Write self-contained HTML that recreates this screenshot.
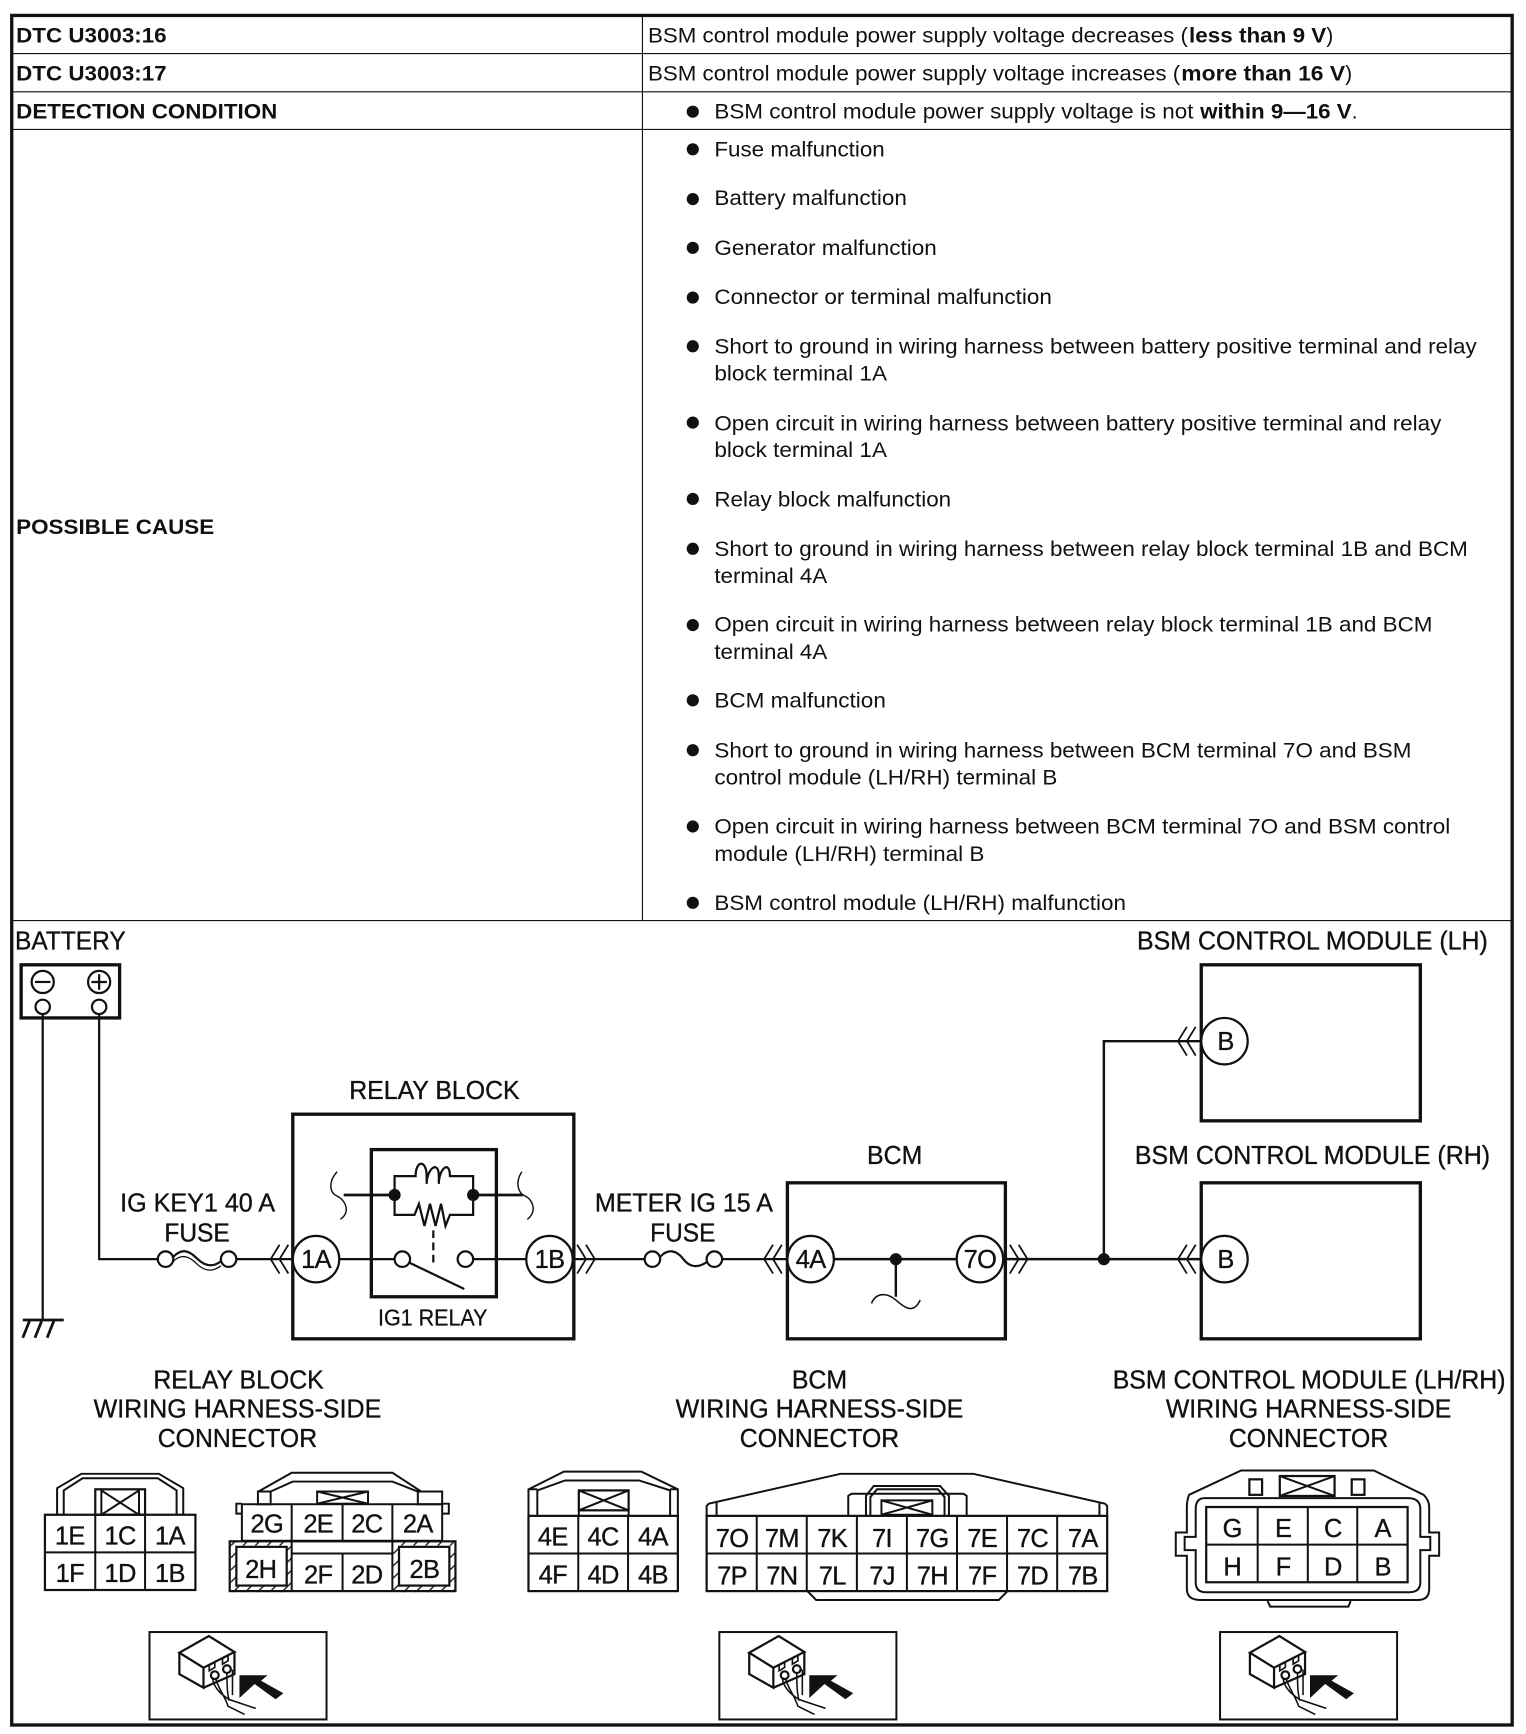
<!DOCTYPE html>
<html><head><meta charset="utf-8"><title>DTC U3003</title>
<style>
html,body{margin:0;padding:0;background:#fff}
svg{display:block}
text{font-family:"Liberation Sans",sans-serif;fill:#111}
.b{font-size:19px;font-weight:bold}
.r{font-size:19px}
.h{font-size:23px;stroke:#111;stroke-width:.3px}
.t{font-size:23px;text-anchor:middle;stroke:#111;stroke-width:.3px;letter-spacing:-.6px}
.s{fill:none;stroke:#111}
</style></head><body>
<svg xmlns="http://www.w3.org/2000/svg" width="1526" height="1734" viewBox="0.4 0.1 1379.1 1567">
<defs>
<g id="cl" fill="none" stroke="#111" stroke-width="1.600"><path d="M253 -13L245 0L253 13M261 -13L253 0L261 13"/></g>
<g id="cr" fill="none" stroke="#111" stroke-width="1.600"><path d="M0 -13L8 0L0 13M8 -13L16 0L8 13"/></g>
<pattern id="hat" width="11" height="11" patternUnits="userSpaceOnUse"><path d="M0 11L11 0" stroke="#111" stroke-width="1.200"/></pattern>
<g id="view">
<rect x="0" y="0" width="160" height="79" fill="#fff" stroke="#111" stroke-width="1.800"/>
<path d="M27 18.700L53.600 3.600L76.800 18L48.800 32.200ZM27 18.700V38L48.800 50.300V32.200M48.800 50.300L76.800 38V18" fill="#fff" stroke="#111" stroke-width="2"/>
<circle cx="59" cy="39" r="3.500" fill="none" stroke="#111" stroke-width="2"/><circle cx="70" cy="33.500" r="3.500" fill="none" stroke="#111" stroke-width="2"/>
<path d="M54 30l5-3v5l-5 3zM66 24l5-3v5l-5 3z" fill="none" stroke="#111" stroke-width="1.500"/>
<path d="M57 42C58 50 64 56 72 61L96 69M60 43C63 52 68 58 71 67L86 74.500M70 37C70 46 70 54 72 62M75 34V57" fill="none" stroke="#111" stroke-width="1.400"/>
<polygon points="81.300,39 106.800,39 100.800,44 121,55.300 114,60.700 95,47 81.300,59.600" fill="#111"/>
</g>
</defs>
<rect x="0" y="0" width="1382" height="1570" fill="#fff"/>

<!-- table -->
<rect x="11" y="14" width="1356" height="1545" fill="none" stroke="#111" stroke-width="3"/>
<path d="M581 14V832M11 48.500H1367M11 83H1367M11 117H1367M11 832H1367" class="s" stroke-width="1"/>

<text class="b" x="15" y="38.500" textLength="136" lengthAdjust="spacingAndGlyphs">DTC U3003:16</text>
<text class="b" x="15" y="73" textLength="136" lengthAdjust="spacingAndGlyphs">DTC U3003:17</text>
<text class="b" x="15" y="107" textLength="236" lengthAdjust="spacingAndGlyphs">DETECTION CONDITION</text>
<text class="b" x="15" y="482.500" textLength="179" lengthAdjust="spacingAndGlyphs">POSSIBLE CAUSE</text>

<text class="r" x="586" y="38.500" textLength="488" lengthAdjust="spacingAndGlyphs">BSM control module power supply voltage decreases (</text>
<text class="b" x="1075" y="38.500" textLength="124" lengthAdjust="spacingAndGlyphs">less than 9 V</text>
<text class="r" x="1199" y="38.500">)</text>
<text class="r" x="586" y="73" textLength="481" lengthAdjust="spacingAndGlyphs">BSM control module power supply voltage increases (</text>
<text class="b" x="1068" y="73" textLength="148" lengthAdjust="spacingAndGlyphs">more than 16 V</text>
<text class="r" x="1216" y="73">)</text>
<text class="r" x="646" y="107" textLength="433" lengthAdjust="spacingAndGlyphs">BSM control module power supply voltage is not</text>
<text class="b" x="1085" y="107" textLength="137" lengthAdjust="spacingAndGlyphs">within 9—16 V</text>
<text class="r" x="1222" y="107">.</text>

<g fill="#111">
<circle cx="626.500" cy="101" r="5.500"/><circle cx="626.500" cy="135" r="5.500"/><circle cx="626.500" cy="180" r="5.500"/><circle cx="626.500" cy="224" r="5.500"/><circle cx="626.500" cy="269" r="5.500"/><circle cx="626.500" cy="313" r="5.500"/><circle cx="626.500" cy="382" r="5.500"/><circle cx="626.500" cy="451" r="5.500"/><circle cx="626.500" cy="496" r="5.500"/><circle cx="626.500" cy="565" r="5.500"/><circle cx="626.500" cy="633" r="5.500"/><circle cx="626.500" cy="678" r="5.500"/><circle cx="626.500" cy="747" r="5.500"/><circle cx="626.500" cy="816" r="5.500"/>
</g>
<text class="r" x="646" y="141.500" textLength="154" lengthAdjust="spacingAndGlyphs">Fuse malfunction</text>
<text class="r" x="646" y="185.500" textLength="174" lengthAdjust="spacingAndGlyphs">Battery malfunction</text>
<text class="r" x="646" y="230.500" textLength="201" lengthAdjust="spacingAndGlyphs">Generator malfunction</text>
<text class="r" x="646" y="275" textLength="305" lengthAdjust="spacingAndGlyphs">Connector or terminal malfunction</text>
<text class="r" x="646" y="319.500" textLength="689" lengthAdjust="spacingAndGlyphs">Short to ground in wiring harness between battery positive terminal and relay</text>
<text class="r" x="646" y="344" textLength="156" lengthAdjust="spacingAndGlyphs">block terminal 1A</text>
<text class="r" x="646" y="389" textLength="657" lengthAdjust="spacingAndGlyphs">Open circuit in wiring harness between battery positive terminal and relay</text>
<text class="r" x="646" y="413" textLength="156" lengthAdjust="spacingAndGlyphs">block terminal 1A</text>
<text class="r" x="646" y="458" textLength="214" lengthAdjust="spacingAndGlyphs">Relay block malfunction</text>
<text class="r" x="646" y="502.500" textLength="681" lengthAdjust="spacingAndGlyphs">Short to ground in wiring harness between relay block terminal 1B and BCM</text>
<text class="r" x="646" y="527" textLength="102" lengthAdjust="spacingAndGlyphs">terminal 4A</text>
<text class="r" x="646" y="571" textLength="649" lengthAdjust="spacingAndGlyphs">Open circuit in wiring harness between relay block terminal 1B and BCM</text>
<text class="r" x="646" y="595.500" textLength="102" lengthAdjust="spacingAndGlyphs">terminal 4A</text>
<text class="r" x="646" y="639.500" textLength="155" lengthAdjust="spacingAndGlyphs">BCM malfunction</text>
<text class="r" x="646" y="684.500" textLength="630" lengthAdjust="spacingAndGlyphs">Short to ground in wiring harness between BCM terminal 7O and BSM</text>
<text class="r" x="646" y="709" textLength="310" lengthAdjust="spacingAndGlyphs">control module (LH/RH) terminal B</text>
<text class="r" x="646" y="753.500" textLength="665" lengthAdjust="spacingAndGlyphs">Open circuit in wiring harness between BCM terminal 7O and BSM control</text>
<text class="r" x="646" y="778" textLength="244" lengthAdjust="spacingAndGlyphs">module (LH/RH) terminal B</text>
<text class="r" x="646" y="822.500" textLength="372" lengthAdjust="spacingAndGlyphs">BSM control module (LH/RH) malfunction</text>

<!-- wiring labels -->
<text class="h" x="14" y="858" textLength="100" lengthAdjust="spacingAndGlyphs">BATTERY</text>
<text class="h" x="1028" y="858" textLength="317" lengthAdjust="spacingAndGlyphs">BSM CONTROL MODULE (LH)</text>
<text class="h" x="1026" y="1052" textLength="321" lengthAdjust="spacingAndGlyphs">BSM CONTROL MODULE (RH)</text>
<text class="h" x="316" y="993.500" textLength="154" lengthAdjust="spacingAndGlyphs">RELAY BLOCK</text>
<text class="h" x="784" y="1052" textLength="50" lengthAdjust="spacingAndGlyphs">BCM</text>
<text class="h" x="109" y="1095" textLength="140" lengthAdjust="spacingAndGlyphs">IG KEY1 40 A</text>
<text class="h" x="149" y="1122" textLength="59" lengthAdjust="spacingAndGlyphs">FUSE</text>
<text class="h" x="538" y="1095" textLength="161" lengthAdjust="spacingAndGlyphs">METER IG 15 A</text>
<text class="h" x="588" y="1122" textLength="59" lengthAdjust="spacingAndGlyphs">FUSE</text>
<text x="342" y="1198" font-size="20.500" stroke="#111" stroke-width=".25" textLength="99" lengthAdjust="spacingAndGlyphs">IG1 RELAY</text>

<!-- battery -->
<rect x="19.500" y="872" width="89" height="48" fill="none" stroke="#111" stroke-width="3"/>
<g class="s" stroke-width="2">
<circle cx="39" cy="887.500" r="10"/><path d="M32 887.500H46"/>
<circle cx="90" cy="887.500" r="10"/><path d="M83 887.500H97M90 880.500V894.500"/>
<circle cx="39" cy="910" r="6.500"/><circle cx="90" cy="910" r="6.500"/>
<path d="M39 917V1193M90 917V1138H143"/>
<path d="M21 1193H58" stroke-width="2.500"/>
<path d="M27 1194L21 1209M38 1194L32 1209M49 1194L43 1209" stroke-width="2.500"/>
</g>

<!-- fuses -->
<g class="s" stroke-width="2">
<circle cx="150" cy="1138" r="7"/><circle cx="207" cy="1138" r="7"/>
<path d="M157 1136C164 1128 171 1130 178 1137S192 1146 200 1140"/>
<path d="M157 1140C164 1133 171 1135 178 1142S192 1150 200 1144" stroke-width="1.200"/>
<path d="M214 1138H266"/>
<circle cx="590" cy="1138" r="7"/><circle cx="646" cy="1138" r="7"/>
<path d="M597 1136C604 1128 612 1130 618 1138S632 1146 640 1140"/>
<path d="M518 1138H583M653 1138H712"/>
</g>

<!-- relay block -->
<rect x="265" y="1007" width="254" height="203" fill="none" stroke="#111" stroke-width="3"/>
<rect x="336" y="1039" width="113" height="133" fill="none" stroke="#111" stroke-width="3"/>
<g class="s" stroke-width="2">
<path d="M311 1080H357M428 1080H473" stroke-width="2.500"/>
<path d="M357 1080V1063H376C376 1048 386 1048 386 1063V1070C386 1056 397 1048 397 1063V1070C397 1056 407 1048 407 1063H428V1080"/>
<path d="M357 1080V1098H375L379 1088L384 1108L389 1088L394 1108L399 1088L403 1108L407 1098H428V1080"/>
<path d="M392 1112V1145" stroke-dasharray="7 4"/>
<circle cx="364" cy="1138" r="7"/><circle cx="421" cy="1138" r="7"/>
<path d="M370 1141L420 1165"/>
<path d="M306 1138H357M428 1138H476"/>
<path d="M305 1059C297 1068 298 1078 305 1081S318 1095 308 1102" stroke-width="1.300"/>
<path d="M472 1059C466 1068 468 1078 475 1081S486 1095 477 1102" stroke-width="1.300"/>
</g>
<g fill="#111"><circle cx="357" cy="1080" r="5.500"/><circle cx="428" cy="1080" r="5.500"/><circle cx="810" cy="1138" r="5.500"/><circle cx="998" cy="1138" r="5.500"/></g>

<!-- BCM & modules -->
<rect x="712" y="1069" width="197" height="141" fill="none" stroke="#111" stroke-width="3"/>
<rect x="1086" y="872" width="198" height="141" fill="none" stroke="#111" stroke-width="3"/>
<rect x="1086" y="1069" width="198" height="141" fill="none" stroke="#111" stroke-width="3"/>
<g class="s" stroke-width="2.200">
<path d="M754 1138H865M908 1138H1086M998 1138V941H1086M810 1138V1172"/>
<path d="M788 1178C792 1168 802 1168 810 1175S826 1188 832 1175" stroke-width="1.400"/>
</g>
<use href="#cl" x="0" y="1138"/>
<use href="#cl" x="446" y="1138"/>
<use href="#cl" x="820" y="1138"/>
<use href="#cl" x="820" y="941"/>
<use href="#cr" x="522" y="1138"/>
<use href="#cr" x="913" y="1138"/>
<g fill="#fff" stroke="#111" stroke-width="2">
<circle cx="286" cy="1138" r="21"/><circle cx="497" cy="1138" r="21"/><circle cx="733" cy="1138" r="21"/><circle cx="886" cy="1138" r="21"/><circle cx="1107" cy="941" r="21"/><circle cx="1107" cy="1138" r="21"/>
</g>
<text class="t" x="286" y="1146">1A</text><text class="t" x="497" y="1146">1B</text><text class="t" x="733" y="1146">4A</text><text class="t" x="886" y="1146">7O</text><text class="t" x="1108" y="949">B</text><text class="t" x="1108" y="1146">B</text>

<!-- connector titles -->
<text class="h" x="139" y="1255" textLength="154" lengthAdjust="spacingAndGlyphs">RELAY BLOCK</text>
<text class="h" x="85" y="1281" textLength="260" lengthAdjust="spacingAndGlyphs">WIRING HARNESS-SIDE</text>
<text class="h" x="143" y="1308" textLength="144" lengthAdjust="spacingAndGlyphs">CONNECTOR</text>
<text class="h" x="716" y="1255" textLength="50" lengthAdjust="spacingAndGlyphs">BCM</text>
<text class="h" x="611" y="1281" textLength="260" lengthAdjust="spacingAndGlyphs">WIRING HARNESS-SIDE</text>
<text class="h" x="669" y="1308" textLength="144" lengthAdjust="spacingAndGlyphs">CONNECTOR</text>
<text class="h" x="1006" y="1255" textLength="355" lengthAdjust="spacingAndGlyphs">BSM CONTROL MODULE (LH/RH)</text>
<text class="h" x="1054" y="1281" textLength="258" lengthAdjust="spacingAndGlyphs">WIRING HARNESS-SIDE</text>
<text class="h" x="1111" y="1308" textLength="144" lengthAdjust="spacingAndGlyphs">CONNECTOR</text>

<!-- connector 1 -->
<g class="s" stroke-width="1.800">
<path d="M52 1369V1345L74 1332H144L166 1345V1369M58 1369V1347L75 1336H143L160 1347V1369"/>
<rect x="86.500" y="1346" width="45" height="23" stroke-width="2"/>
<path d="M92 1347V1369M126 1347V1369M92 1347L126 1369M126 1347L92 1369"/>
<rect x="41" y="1369" width="136" height="68" stroke-width="2"/>
<path d="M86.500 1369V1437M131.500 1369V1437M41 1403H177"/>
</g>
<text class="t" x="63.500" y="1396">1E</text><text class="t" x="109" y="1396">1C</text><text class="t" x="154" y="1396">1A</text>
<text class="t" x="63.500" y="1430">1F</text><text class="t" x="109" y="1430">1D</text><text class="t" x="154" y="1430">1B</text>

<!-- connector 2 -->
<g class="s" stroke-width="1.800">
<path d="M234 1348L264 1331H355L381 1348M245 1348L265 1339H355L378 1348"/>
<rect x="233.500" y="1348" width="11.500" height="11.500"/><rect x="378" y="1348" width="22" height="11.500"/>
<rect x="287" y="1348" width="46" height="11"/><path d="M287 1348L333 1359M333 1348L287 1359"/>
<path d="M219 1359H214V1368H219M400 1359H406V1368H400"/>
<rect x="219" y="1359.500" width="181" height="33"/>
<path d="M264 1360V1392M310 1360V1392M355 1360V1392"/>
<rect x="208" y="1393" width="56" height="46" fill="url(#hat)" stroke="none"/>
<rect x="356" y="1393" width="56" height="46" fill="url(#hat)" stroke="none"/>
<rect x="208" y="1393" width="204" height="45" stroke-width="2"/>
<rect x="214" y="1398" width="45.500" height="35" fill="#fff" stroke-width="2"/>
<rect x="361" y="1398" width="45.500" height="35" fill="#fff" stroke-width="2"/>
<path d="M264 1393V1438M355 1393V1438M264 1404H355M310 1404V1438"/>
</g>
<text class="t" x="241.500" y="1385">2G</text><text class="t" x="288" y="1385">2E</text><text class="t" x="332" y="1385">2C</text><text class="t" x="378" y="1385">2A</text>
<text class="t" x="236" y="1426">2H</text><text class="t" x="288" y="1431">2F</text><text class="t" x="332" y="1431">2D</text><text class="t" x="384" y="1426">2B</text>

<!-- connector 3 -->
<g class="s" stroke-width="1.800">
<path d="M478 1370V1346L510 1330H580L613 1346V1370M486 1370V1347L511 1338H578L606 1347V1370M478 1346H486M606 1346H613"/>
<rect x="523.500" y="1347" width="45" height="18" stroke-width="2"/>
<path d="M523.500 1347L568.500 1365M568.500 1347L523.500 1365M523.500 1365V1370M568.500 1365V1370"/>
<rect x="478" y="1370" width="135" height="68" stroke-width="2"/>
<path d="M523 1370V1438M568 1370V1438M478 1404H613"/>
</g>
<text class="t" x="500" y="1397">4E</text><text class="t" x="545.500" y="1397">4C</text><text class="t" x="590.500" y="1397">4A</text>
<text class="t" x="500" y="1431">4F</text><text class="t" x="545.500" y="1431">4D</text><text class="t" x="590.500" y="1431">4B</text>

<!-- connector 4 -->
<g class="s" stroke-width="1.800">
<path d="M639 1370V1361L641 1359L760 1332H880L999 1359L1001 1361V1370M648 1370V1358M994 1370V1358"/>
<path d="M767 1370V1352L770 1350H871L874 1352V1370M783 1370V1352L790 1343H850L858 1352V1370M787 1370V1353L793 1346H848L854 1353V1370"/>
<rect x="797" y="1356" width="46" height="13"/><path d="M797 1356L843 1369M843 1356L797 1369"/>
<rect x="639" y="1370" width="362" height="68" stroke-width="2"/>
<path d="M684.300 1370V1438M729.500 1370V1438M774.800 1370V1438M820 1370V1438M865.300 1370V1438M910.500 1370V1438M955.800 1370V1438M639 1404H1001"/>
<path d="M730 1438L738 1446H903L911 1438"/>
</g>
<text class="t" x="662" y="1398">7O</text><text class="t" x="707" y="1398">7M</text><text class="t" x="752.500" y="1398">7K</text><text class="t" x="797.500" y="1398">7I</text><text class="t" x="843" y="1398">7G</text><text class="t" x="888" y="1398">7E</text><text class="t" x="933.500" y="1398">7C</text><text class="t" x="979" y="1398">7A</text>
<text class="t" x="662" y="1432">7P</text><text class="t" x="707" y="1432">7N</text><text class="t" x="752.500" y="1432">7L</text><text class="t" x="797.500" y="1432">7J</text><text class="t" x="843" y="1432">7H</text><text class="t" x="888" y="1432">7F</text><text class="t" x="933.500" y="1432">7D</text><text class="t" x="979" y="1432">7B</text>

<!-- connector 5 -->
<g class="s" stroke-width="1.800">
<path d="M1075 1351L1122 1329H1242L1287 1351Q1292 1356 1292 1362V1385H1301V1406H1292V1436Q1292 1446 1282 1446H1085Q1073 1446 1073 1436V1406H1063V1385H1073V1362Q1073 1356 1075 1351Z"/>
<path d="M1089 1354H1273Q1284 1354 1284 1364V1389H1293V1401H1284V1430Q1284 1439 1274 1439H1090Q1081 1439 1081 1430V1401H1071V1389H1081V1364Q1081 1354 1089 1354Z"/>
<rect x="1129.500" y="1337" width="11.500" height="14" stroke-width="2"/>
<rect x="1222" y="1337" width="11.500" height="14" stroke-width="2"/>
<rect x="1157" y="1334" width="49.500" height="18" stroke-width="2"/>
<path d="M1157 1334L1206.500 1352M1206.500 1334L1157 1352"/>
<rect x="1090.500" y="1362" width="182" height="68" stroke-width="2"/>
<path d="M1137 1362V1430M1182.300 1362V1430M1227 1362V1430M1090.500 1396H1272.500"/>
<path d="M1146 1447L1148.300 1452H1219L1221 1447"/>
</g>
<text class="t" x="1114" y="1389">G</text><text class="t" x="1160" y="1389">E</text><text class="t" x="1205" y="1389">C</text><text class="t" x="1250" y="1389">A</text>
<text class="t" x="1114" y="1424">H</text><text class="t" x="1160" y="1424">F</text><text class="t" x="1205" y="1424">D</text><text class="t" x="1250" y="1424">B</text>

<!-- connector view icons -->
<use href="#view" x="135.500" y="1475"/>
<use href="#view" x="650.500" y="1475"/>
<use href="#view" x="1103" y="1475"/>
</svg>
</body></html>
